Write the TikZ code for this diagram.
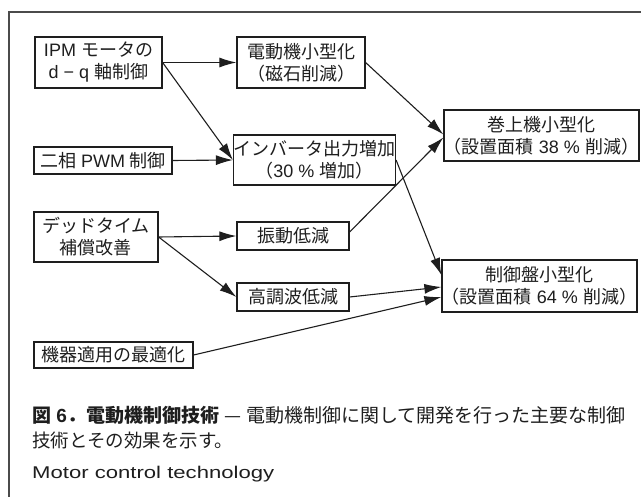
\documentclass[tikz,border=0pt]{standalone}
\usepackage{fontspec}
\setmainfont{Liberation Sans}
\newfontfamily\jp{Noto Sans CJK JP}
\newfontfamily\capfont{Liberation Sans}[FakeStretch=1.3]
\usetikzlibrary{arrows.meta}
\definecolor{ink}{HTML}{1E1E1E}
\tikzset{
  box/.style={draw=ink, line width=1.2pt, inner sep=0pt, align=center,
    font=\fontsize{18}{22}\selectfont, text=ink},
  conn/.style={draw=ink, line width=1.1pt, -{Latex[length=17pt,width=10pt]}},
  captext/.style={anchor=base west, inner sep=0pt, text=ink, font=\fontsize{18.5}{20}\selectfont},
}
\begin{document}
\begin{tikzpicture}[x=1pt,y=-1pt]
\useasboundingbox (0,0) rectangle (641,497);
\draw[draw=ink!80, line width=1.2pt] (641,12) -- (9,12) -- (9,497);

\node[box, minimum width=127pt, minimum height=51pt] (A) at (98.5,62.5) {IPM {\jp モータの}\\d − q {\jp 軸制御}};
\node[box, minimum width=128pt, minimum height=51pt] (B) at (301,62.5) {\jp 電動機小型化\\\jp （磁石削減）};
\node[box, minimum width=138pt, minimum height=27pt] (C) at (103,160.5) {{\jp 二相} PWM {\jp 制御}};
\node[box, minimum width=155pt, minimum height=50pt] (D) at (314.5,160) {\jp インバータ出力増加\\{\jp （}30 \% {\jp 増加）}};
\node[box, minimum width=124pt, minimum height=50pt] (E) at (96,237) {\jp デッドタイム\\\jp 補償改善};
\node[box, minimum width=112pt, minimum height=28pt] (F) at (293,236) {\jp 振動低減};
\node[box, minimum width=112pt, minimum height=28pt] (G) at (293,297) {\jp 高調波低減};
\node[box, minimum width=159pt, minimum height=26pt] (H) at (113.5,355) {\jp 機器適用の最適化};
\node[box, minimum width=171pt, minimum height=51pt] (I) at (541.5,135.5) {\jp 巻上機小型化\\{\jp （設置面積} 38 \% {\jp 削減）}};
\node[box, minimum width=171pt, minimum height=52pt] (J) at (539.5,286) {\jp 制御盤小型化\\{\jp （設置面積} 64 \% {\jp 削減）}};

\draw[conn] (A.east) -- (B.west);
\draw[conn] (A.east) -- (D.west);
\draw[conn] (C.east) -- (D.west);
\draw[conn] (B.east) -- ([yshift=1pt]I.west);
\draw[conn] ([yshift=4pt]F.east) -- ([yshift=-2pt]I.west);
\draw[conn] (D.east) -- ([yshift=11pt]J.west);
\draw[conn] (E.east) -- (F.west);
\draw[conn] (E.east) -- (G.west);
\draw[conn] (G.east) -- ([yshift=-1pt]J.west);
\draw[conn] (H.east) -- ([yshift=-11pt]J.west);

\node[captext, font=\fontsize{19}{20}\selectfont] (cap1) at (32,423)
  {{\jp\bfseries 図} \textbf{6}{\jp\bfseries ．電動機制御技術}\hspace{5pt}{\jp —}\hspace{5pt}{\jp 電動機制御に関して開発を行った主要な制御}};
\node[captext] (cap2) at (32,448) {\jp 技術とその効果を示す。};
\node[captext, font=\fontsize{17}{20}\selectfont] (cap3) at (32,479) {\capfont Motor control technology};
\end{tikzpicture}
\end{document}
